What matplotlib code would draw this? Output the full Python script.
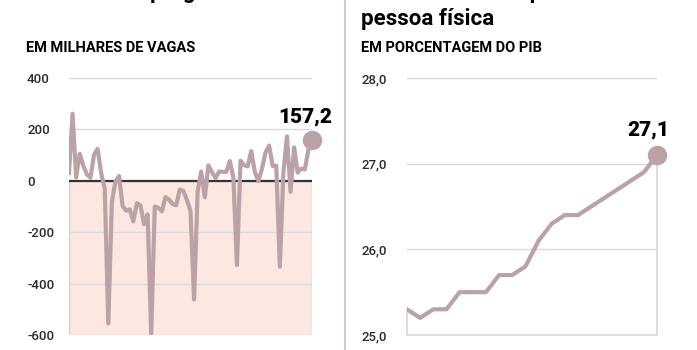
import matplotlib
matplotlib.use("Agg")
import matplotlib.pyplot as plt
from matplotlib.lines import Line2D
import numpy as np

# Saldo mensal de empregos formais (mil vagas), jan/2014 a set/2019
jobs_2014 = [30, 261, 13, 105, 59, 25, 12, 101, 124, 30, -30, -555]
jobs_2015 = [-82, -2, 19, -98, -116, -111, -158, -87, -96, -169, -131, -596]
jobs_2016 = [-100, -105, -119, -63, -73, -91, -95, -34, -39, -75, -117, -462]
jobs_2017 = [-41, 36, -64, 60, 34, 10, 36, 35, 34, 77, 12, -328]
jobs_2018 = [78, 61, 56, 116, 34, -1, 47, 110, 137, 58, 59, -334]
jobs_2019 = [34, 173, -43, 130, 32, 48, 44, 121, 157.2]
jobs = jobs_2014 + jobs_2015 + jobs_2016 + jobs_2017 + jobs_2018 + jobs_2019

# Crédito à pessoa física (% do PIB)
credit = [25.3, 25.2, 25.3, 25.3, 25.5, 25.5, 25.5, 25.7, 25.7, 25.8,
          26.1, 26.3, 26.4, 26.4, 26.5, 26.6, 26.7, 26.8, 26.9, 27.1]

jobs_ticks = [400, 200, 0, -200, -400, -600]
credit_ticks = [28.0, 27.0, 26.0, 25.0]

LINE = "#bba2a6"
PINK = "#fde8e1"
GRID = "#d9d9d9"
TEXT = "#2b2b2b"

W, H = 697, 350
fig = plt.figure(figsize=(W / 100, H / 100), dpi=100)
fig.patch.set_facecolor("white")


def box(x0, y0, x1, y1):
    return [x0 / W, 1 - y1 / H, (x1 - x0) / W, (y1 - y0) / H]


def style_axes(ax, ticks, labels, pad_px):
    for spine in ax.spines.values():
        spine.set_visible(False)
    ax.set_xticks([])
    ax.set_yticks(ticks)
    ax.set_yticklabels(labels, ha="left", fontsize=9.5, color=TEXT,
                       fontweight="medium", family=["Roboto", "DejaVu Sans"])
    ax.tick_params(axis="y", length=0, pad=pad_px * 0.72)
    ax.set_facecolor("none")


# --- painel esquerdo: empregos ---
ax1 = fig.add_axes(box(69, 78, 312, 335))
x1 = np.arange(len(jobs))
ax1.set_xlim(0, len(jobs) - 1)
ax1.set_ylim(-600, 400)
ax1.axhspan(-600, 0, facecolor=PINK, edgecolor="#cfcfcf", lw=1, zorder=0)
for t in jobs_ticks:
    if t not in (0, -600):
        ax1.axhline(t, color=GRID, lw=1, zorder=1)
ax1.axhline(0, color="#333333", lw=1.6, zorder=2)
ax1.plot(x1, jobs, color=LINE, lw=3.0, solid_joinstyle="round", zorder=3)
ax1.plot(x1[-1], jobs[-1], "o", ms=13, color=LINE, zorder=4, clip_on=False)
ax1.annotate("157,2", (x1[-1], jobs[-1]), xytext=(-5, 17),
             textcoords="offset points", ha="center", va="center",
             fontsize=15, fontweight="black", color="black",
             family=["Roboto", "DejaVu Sans"])
style_axes(ax1, jobs_ticks, [str(t) for t in jobs_ticks], 42)

# --- painel direito: crédito ---
ax2 = fig.add_axes(box(407, 78, 657, 335))
x2 = np.arange(len(credit))
ax2.set_xlim(0, len(credit) - 1)
ax2.set_ylim(25, 28)
for t in credit_ticks[:-1]:
    ax2.axhline(t, color=GRID, lw=1, zorder=1)
ax2.fill_between(x2, 25, credit, facecolor="none", edgecolor="#cfcfcf",
                 lw=1, zorder=2, clip_on=False)
ax2.plot(x2, credit, color=LINE, lw=3.0, solid_joinstyle="round", zorder=3)
ax2.plot(x2[-1], credit[-1], "o", ms=13, color=LINE, zorder=4, clip_on=False)
ax2.annotate("27,1", (x2[-1], credit[-1]), xytext=(-6, 18),
             textcoords="offset points", ha="center", va="center",
             fontsize=15, fontweight="black", color="black",
             family=["Roboto", "DejaVu Sans"])
style_axes(ax2, credit_ticks, [f"{t:.1f}".replace(".", ",") for t in credit_ticks], 46)

# --- títulos (a primeira linha fica cortada no topo) ---
title_font = ["Liberation Sans Narrow", "Roboto", "DejaVu Sans"]
fig.text(26 / W, 1 + 2 / H, "Saldo de empregos formais", ha="left", va="baseline",
         fontsize=16, fontweight="bold", family=title_font)
fig.text(361 / W, 1 + 2 / H, "Saldo de crédito para", ha="left", va="baseline",
         fontsize=16, fontweight="bold", family=title_font)
fig.text(361 / W, 1 - 25 / H, "pessoa física", ha="left", va="baseline",
         fontsize=16, fontweight="bold", family=title_font)
fig.text(26 / W, 1 - 52 / H, "EM MILHARES DE VAGAS", ha="left", va="baseline",
         fontsize=10.5, fontweight="bold", family=["Roboto", "DejaVu Sans"])
fig.text(361 / W, 1 - 52 / H, "EM PORCENTAGEM DO PIB", ha="left", va="baseline",
         fontsize=10.5, fontweight="bold", family=["Roboto", "DejaVu Sans"])

fig.add_artist(Line2D([345 / W, 345 / W], [0, 1], color="#cccccc", lw=1.5))

fig.savefig("out.png", dpi=100)
